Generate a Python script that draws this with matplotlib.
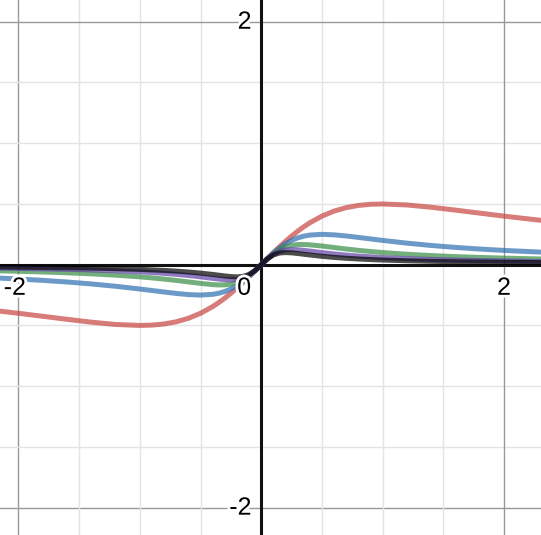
import matplotlib.pyplot as plt
import matplotlib.patheffects as pe

# sample x positions
xs = [-2.2, -2.0, -1.8, -1.6, -1.4, -1.2, -1.0, -0.9, -0.8, -0.7, -0.6, -0.5,
      -0.4, -0.35, -0.3, -0.25, -0.2, -0.15, -0.1, -0.05, 0.0,
      0.05, 0.1, 0.15, 0.2, 0.25, 0.3, 0.35, 0.4, 0.5, 0.6, 0.7, 0.8, 0.9,
      1.0, 1.2, 1.4, 1.6, 1.8, 2.0, 2.3]

red = [-0.3767, -0.4, -0.4245, -0.4494, -0.4730, -0.4918, -0.5, -0.4972, -0.4878,
       -0.4698, -0.4412, -0.4, -0.3448, -0.3118, -0.2752, -0.2353, -0.1923,
       -0.1467, -0.0990, -0.0499, 0.0,
       0.0499, 0.0990, 0.1467, 0.1923, 0.2353, 0.2752, 0.3118, 0.3448, 0.4,
       0.4412, 0.4698, 0.4878, 0.4972, 0.5, 0.4918, 0.4730, 0.4494, 0.4245,
       0.4, 0.3657]
blue = [-0.1081, -0.1176, -0.1289, -0.1423, -0.1584, -0.1775, -0.2, -0.2123,
        -0.2247, -0.2365, -0.2459, -0.25, -0.2439, -0.2349, -0.2206, -0.2,
        -0.1724, -0.1376, -0.0962, -0.0495, 0.0,
        0.0495, 0.0962, 0.1376, 0.1724, 0.2, 0.2206, 0.2349, 0.2439, 0.25,
        0.2459, 0.2365, 0.2247, 0.2123, 0.2, 0.1775, 0.1584, 0.1423, 0.1289,
        0.1176, 0.1038]
green = [-0.0494, -0.0541, -0.0597, -0.0666, -0.0751, -0.0860, -0.1, -0.1086,
         -0.1183, -0.1294, -0.1415, -0.1538, -0.1639, -0.1665, -0.1657, -0.16,
         -0.1471, -0.1247, -0.0917, -0.0489, 0.0,
         0.0489, 0.0917, 0.1247, 0.1471, 0.16, 0.1657, 0.1665, 0.1639, 0.1538,
         0.1415, 0.1294, 0.1183, 0.1086, 0.1, 0.0860, 0.0751, 0.0666, 0.0597,
         0.0541, 0.0473]
purple = [-0.0280, -0.0308, -0.0341, -0.0381, -0.0433, -0.0499, -0.0588, -0.0645,
          -0.0712, -0.0792, -0.0888, -0.1, -0.1124, -0.1182, -0.1230, -0.125,
          -0.1220, -0.1103, -0.0862, -0.0481, 0.0,
          0.0481, 0.0862, 0.1103, 0.1220, 0.125, 0.1230, 0.1182, 0.1124, 0.1,
          0.0888, 0.0792, 0.0712, 0.0645, 0.0588, 0.0499, 0.0433, 0.0381,
          0.0341, 0.0308, 0.0269]
black = [-0.0180, -0.0198, -0.0220, -0.0246, -0.0280, -0.0324, -0.0385, -0.0424,
         -0.0471, -0.0528, -0.06, -0.0690, -0.08, -0.0862, -0.0923, -0.0976,
         -0.1, -0.0960, -0.08, -0.0471, 0.0,
         0.0471, 0.08, 0.0960, 0.1, 0.0976, 0.0923, 0.0862, 0.08, 0.0690, 0.06,
         0.0528, 0.0471, 0.0424, 0.0385, 0.0324, 0.0280, 0.0246, 0.0220,
         0.0198, 0.0173]

series = [red, blue, green, purple, black]
colors = ['#c74440', '#2d70b3', '#388c46', '#6042a6', '#000000']

fig = plt.figure(figsize=(5.41, 5.35), dpi=100)
ax = fig.add_axes([0, 0, 1, 1])
ax.set_xlim(-2.152, 2.305)
ax.set_ylim(-2.225, 2.179)

# grid
for g in [-2, -1.5, -1, -0.5, 0.5, 1, 1.5, 2]:
    c = '#999999' if abs(g) == 2 else '#e4e4e4'
    ax.axvline(g, color=c, lw=1, zorder=0)
    ax.axhline(g, color=c, lw=1, zorder=0)
ax.axvline(0, color='#111111', lw=2.2, zorder=1)
ax.axhline(0, color='#111111', lw=2.2, zorder=1)

for ys, c in zip(series, colors):
    ax.plot(xs, ys, color=c, lw=3.6, alpha=0.7, solid_capstyle='round',
            solid_joinstyle='round', zorder=3)

halo = [pe.withStroke(linewidth=4, foreground='white')]
kw = dict(fontsize=18, family='Liberation Sans', color='black', path_effects=halo, zorder=4)
ax.text(2, -0.19, '2', ha='center', va='center', **kw)
ax.text(-2.03, -0.19, '-2', ha='center', va='center', **kw)
ax.text(-0.14, -0.19, '0', ha='center', va='center', **kw)
ax.text(-0.08, 2.0, '2', ha='right', va='center', **kw)
ax.text(-0.08, -2.0, '-2', ha='right', va='center', **kw)

ax.axis('off')
fig.savefig('out.png', dpi=100)
